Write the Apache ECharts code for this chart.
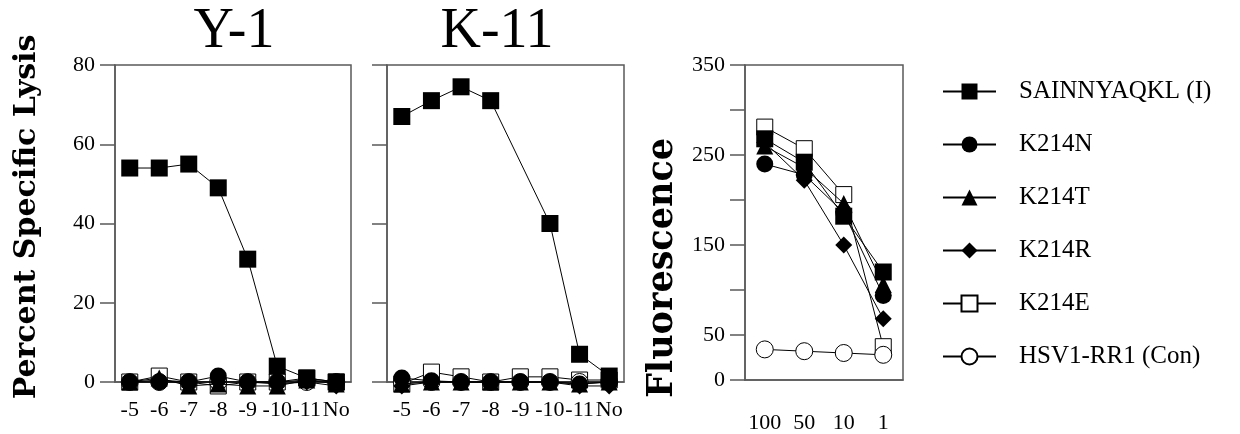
<!DOCTYPE html>
<html>
<head>
<meta charset="utf-8">
<script src="https://cdn.jsdelivr.net/npm/echarts@6/dist/echarts.min.js"></script>
<style>html,body{margin:0;padding:0;background:#fff}#c{width:1240px;height:434px}</style>
</head>
<body>
<div id="c"></div>
<script>
// ---- data ----
const lysisCats = ['-5', '-6', '-7', '-8', '-9', '-10', '-11', 'No'];
const fluorCats = ['100', '50', '10', '1'];
const seriesNames = ['SAINNYAQKL (I)', 'K214N', 'K214T', 'K214R', 'K214E', 'HSV1-RR1 (Con)'];
const lysisTicks = [0, 20, 40, 60, 80];
const fluorLabelTicks = [0, 50, 150, 250, 350];

const y1_SAIN = [54, 54, 55, 49, 31, 4, 1, 0];
const y1_K214N = [0, 0, 0, 1.5, 0, 0, 0.5, 0];
const y1_K214T = [0, 1, -1, -0.5, -1, -1, 0.5, -0.5];
const y1_K214R = [0, 0.5, 0, 0, 0, -0.5, 0, -1];
const y1_K214E = [0, 1.5, 0, -1, 0, 0, 1, 0];
const y1_HSV = [0, 0, 0, 0, 0, 0, 0, 0];

const k11_SAIN = [67, 71, 74.5, 71, null, 40, 7, 1.5];
const k11_K214N = [1, 0.3, 0, 0, 0, 0, -0.5, 0];
const k11_K214T = [-0.5, 0, 0, 0, 0, 0, -0.5, 0];
const k11_K214R = [-1, 0, 0, 0, 0, 0, -1, -1];
const k11_K214E = [-0.5, 2.5, 1.3, 0, 1.3, 1.3, 0.5, 0.5];
const k11_HSV = [0, 0, 0, 0, 0, 0, 0, 0];

const fl_SAIN = [268, 242, 182, 120];
const fl_K214N = [240, 228, 186, 94];
const fl_K214T = [260, 236, 196, 106];
const fl_K214R = [264, 222, 150, 68];
const fl_K214E = [281, 257, 206, 37];
const fl_HSV = [34, 32, 30, 28];

// ---- styles ----
const markStyles = [
  { symbol: 'rect', fill: '#000', size: 17, z: 5 },
  { symbol: 'circle', fill: '#000', size: 17, z: 4 },
  { symbol: 'triangle', fill: '#000', size: 17, z: 4 },
  { symbol: 'diamond', fill: '#000', size: 17, z: 4 },
  { symbol: 'rect', fill: '#fff', size: 16, z: 2 },
  { symbol: 'circle', fill: '#fff', size: 17, z: 2 }
];
const panels = [
  [y1_SAIN, y1_K214N, y1_K214T, y1_K214R, y1_K214E, y1_HSV],
  [k11_SAIN, k11_K214N, k11_K214T, k11_K214R, k11_K214E, k11_HSV],
  [fl_SAIN, fl_K214N, fl_K214T, fl_K214R, fl_K214E, fl_HSV]
];

const axisCol = '#5a5a5a';
const serif = '"Liberation Serif", "Times New Roman", serif';

const series = [];
panels.forEach((p, pi) => {
  p.forEach((d, si) => {
    const st = markStyles[si];
    series.push({
      type: 'line',
      name: seriesNames[si],
      xAxisIndex: pi, yAxisIndex: pi,
      data: d,
      connectNulls: true,
      clip: false,
      symbol: st.symbol,
      symbolSize: st.size,
      showAllSymbol: true,
      z: st.z,
      lineStyle: { color: '#000', width: 1 },
      itemStyle: { color: st.fill, borderColor: '#000', borderWidth: st.fill === '#fff' ? 1 : 0 },
      emphasis: { disabled: true },
      silent: true
    });
  });
});

function catAxis(idx, cats, margin) {
  return {
    type: 'category', gridIndex: idx, data: cats, boundaryGap: true,
    axisLine: { lineStyle: { color: axisCol, width: 1.5 } },
    axisTick: { alignWithLabel: true, length: 12, lineStyle: { color: axisCol, width: 1.5 } },
    axisLabel: { interval: 0, color: '#000', fontFamily: serif, fontSize: 22, margin: margin },
    splitLine: { show: false }
  };
}

const chart = echarts.init(document.getElementById('c'), null, { renderer: 'canvas' });
chart.setOption({
  animation: false,
  backgroundColor: '#fff',
  grid: [
    { left: 115, top: 65, width: 236, height: 317, show: true, borderColor: axisCol, borderWidth: 1.5, backgroundColor: 'transparent' },
    { left: 387, top: 65, width: 237, height: 317, show: true, borderColor: axisCol, borderWidth: 1.5, backgroundColor: 'transparent' },
    { left: 745, top: 65, width: 158, height: 317, show: true, borderColor: axisCol, borderWidth: 1.5, backgroundColor: 'transparent' }
  ],
  xAxis: [catAxis(0, lysisCats, 17), catAxis(1, lysisCats, 17), catAxis(2, fluorCats, 32)],
  yAxis: [0, 1, 2].map(i => ({
    type: 'value', gridIndex: i,
    min: 0, max: i === 2 ? 350 : 80, interval: i === 2 ? 50 : 20,
    axisLine: { show: true, lineStyle: { color: axisCol, width: 1.5 } },
    axisTick: { show: true, length: i === 2 ? 15 : 15, lineStyle: { color: axisCol, width: 1.5 } },
    axisLabel: {
      show: i !== 1, color: '#000', fontFamily: serif, fontSize: 22, margin: 20,
      formatter: v => (i === 2 ? (fluorLabelTicks.indexOf(v) >= 0 ? String(v) : '') : (lysisTicks.indexOf(v) >= 0 ? String(v) : ''))
    },
    splitLine: { show: false }
  })),
  legend: {
    data: seriesNames,
    orient: 'vertical',
    left: 942, top: 79, padding: 0,
    itemWidth: 53, itemHeight: 20, itemGap: 28,
    selectedMode: false,
    textStyle: { color: '#000', fontFamily: serif, fontSize: 25, lineHeight: 25, padding: [0, 0, 0, 18] }
  },
  graphic: [
    { type: 'text', x: 234, y: 32, style: { text: 'Y-1', fontFamily: serif, fontSize: 56, fill: '#000', align: 'center', verticalAlign: 'middle' } },
    { type: 'text', x: 497, y: 32, style: { text: 'K-11', fontFamily: serif, fontSize: 56, fill: '#000', align: 'center', verticalAlign: 'middle' } },
    { type: 'text', x: 27, y: 217, rotation: Math.PI / 2, style: { text: 'Percent Specific Lysis', fontFamily: '"DejaVu Serif", serif', fontWeight: 'bold', fontSize: 30, fill: '#000', align: 'center', verticalAlign: 'middle' } },
    { type: 'text', x: 663, y: 268, rotation: Math.PI / 2, style: { text: 'Fluorescence', fontFamily: '"DejaVu Serif", serif', fontWeight: 'bold', fontSize: 35, fill: '#000', align: 'center', verticalAlign: 'middle' } }
  ],
  series: series
});
</script>
</body>
</html>
